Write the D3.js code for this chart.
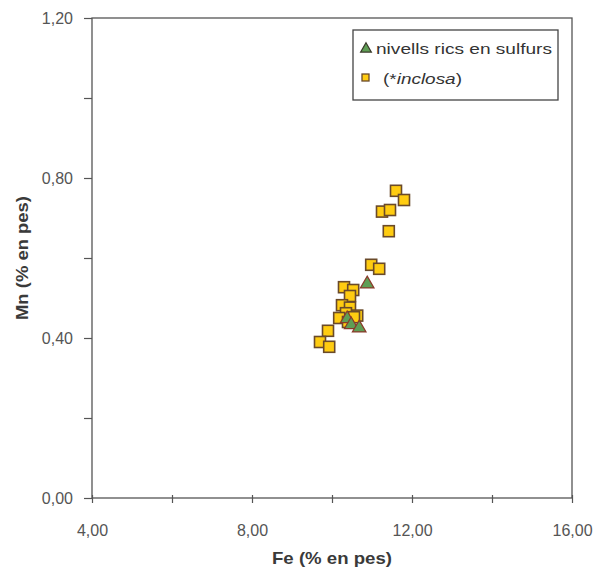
<!DOCTYPE html>
<html>
<head>
<meta charset="utf-8">
<script src="https://cdn.jsdelivr.net/npm/d3@7"></script>
<style>
  body { margin: 0; background: #fff; }
  svg { display: block; font-family: "Liberation Sans", Arial, sans-serif; }
</style>
</head>
<body>
<svg id="chart" width="598" height="567"></svg>
<script>
// Fe vs Mn (% en pes)
const sulfurFe = [10.88, 10.38, 10.48, 10.68];
const sulfurMn = [0.535, 0.448, 0.433, 0.425];

const inclosaFe = [11.6, 11.8, 11.25, 11.45, 11.42, 10.98, 11.18,
                   10.3, 10.53, 10.45, 10.25, 10.45, 10.35, 10.18, 10.63, 10.4, 10.55,
                   9.9, 9.7, 9.93];
const inclosaMn = [0.768, 0.745, 0.716, 0.72, 0.667, 0.583, 0.573,
                   0.527, 0.52, 0.505, 0.482, 0.476, 0.462, 0.45, 0.456, 0.44, 0.452,
                   0.418, 0.39, 0.378];

const xTicks = [4, 8, 12, 16];
const xMinor = [6, 10, 14];
const yTicks = [0, 0.4, 0.8, 1.2];
const yMinor = [0.2, 0.6, 1.0];

const seriesNames = ["nivells rics en sulfurs", "inclosa"];

const fmt = v => d3.format(".2f")(v).replace(".", ",");

const svg = d3.select("#chart");
const plotL = 92, plotR = 572, plotT = 18, plotB = 498;

const x = d3.scaleLinear().domain([4, 16]).range([plotL, plotR]);
const y = d3.scaleLinear().domain([0, 1.2]).range([plotB, plotT]);

const axisColor = "#555";
const labelColor = "#555";

// frame
svg.append("rect")
  .attr("x", plotL).attr("y", plotT)
  .attr("width", plotR - plotL).attr("height", plotB - plotT)
  .attr("fill", "none").attr("stroke", axisColor).attr("stroke-width", 1.3);

// y axis ticks + labels
const yAxis = svg.append("g").attr("transform", `translate(${plotL},0)`)
  .call(d3.axisLeft(y).tickValues(yTicks.concat(yMinor)).tickSize(8)
    .tickFormat(d => yTicks.some(t => Math.abs(t - d) < 1e-9) ? fmt(d) : ""));
yAxis.select(".domain").remove();
yAxis.selectAll("line").attr("stroke", axisColor).attr("stroke-width", 1.2);
yAxis.selectAll("text").attr("fill", labelColor).attr("font-size", 16)
  .attr("font-family", "Liberation Sans, Arial, sans-serif").attr("x", -19);

// x axis ticks + labels
const xAxis = svg.append("g").attr("transform", `translate(0,${plotB})`)
  .call(d3.axisBottom(x).tickValues(xTicks.concat(xMinor)).tickSize(5)
    .tickFormat(d => xTicks.includes(d) ? fmt(d) : ""));
xAxis.select(".domain").remove();
xAxis.selectAll("line").attr("stroke", axisColor).attr("stroke-width", 1.2).attr("y1", -3);
xAxis.selectAll("text").attr("fill", labelColor).attr("font-size", 16)
  .attr("font-family", "Liberation Sans, Arial, sans-serif")
  .attr("y", 38).attr("dy", 0);

// axis titles
svg.append("text")
  .attr("x", 332).attr("y", 564)
  .attr("text-anchor", "middle").attr("font-size", 17).attr("font-weight", "bold")
  .attr("fill", "#3a3a3a").attr("textLength", 120).attr("lengthAdjust", "spacingAndGlyphs")
  .text("Fe (% en pes)");
svg.append("text")
  .attr("transform", `translate(28,258) rotate(-90)`)
  .attr("text-anchor", "middle").attr("font-size", 17).attr("font-weight", "bold")
  .attr("fill", "#3a3a3a").attr("textLength", 124).attr("lengthAdjust", "spacingAndGlyphs")
  .text("Mn (% en pes)");

// markers
const sqSize = 11;
const squareFill = "#ffcc11", squareStroke = "#6a4a2a";
const triFill = "#5f9e55", triStroke = "#8a3a2a";
const triPath = d3.symbol().type(d3.symbolTriangle).size(80)();

const inclosa = inclosaFe.map((v, i) => ({ fe: v, mn: inclosaMn[i] }));
const sulfur = sulfurFe.map((v, i) => ({ fe: v, mn: sulfurMn[i] }));

svg.append("g").selectAll("rect").data(inclosa).join("rect")
  .attr("x", d => x(d.fe) - sqSize / 2).attr("y", d => y(d.mn) - sqSize / 2)
  .attr("width", sqSize).attr("height", sqSize)
  .attr("fill", squareFill).attr("stroke", squareStroke).attr("stroke-width", 1.6);

svg.append("g").selectAll("path").data(sulfur).join("path")
  .attr("d", triPath)
  .attr("transform", d => `translate(${x(d.fe)},${y(d.mn)})`)
  .attr("fill", triFill).attr("stroke", triStroke).attr("stroke-width", 1.2);

// legend
const lg = svg.append("g");
lg.append("rect").attr("x", 353).attr("y", 30).attr("width", 205).attr("height", 70)
  .attr("fill", "#fff").attr("stroke", "#444").attr("stroke-width", 1.3);
lg.append("path").attr("d", d3.symbol().type(d3.symbolTriangle).size(50)())
  .attr("transform", "translate(366,49)")
  .attr("fill", triFill).attr("stroke", "#3a3a2a").attr("stroke-width", 1.2);
lg.append("text").attr("x", 376).attr("y", 54).attr("font-size", 15).attr("fill", "#333")
  .attr("textLength", 176).attr("lengthAdjust", "spacingAndGlyphs")
  .text(seriesNames[0]);
lg.append("rect").attr("x", 362).attr("y", 74).attr("width", 7).attr("height", 7)
  .attr("fill", squareFill).attr("stroke", squareStroke).attr("stroke-width", 1.3);
const t2 = lg.append("text").attr("x", 383).attr("y", 84).attr("font-size", 15).attr("fill", "#333")
  .attr("textLength", 79).attr("lengthAdjust", "spacingAndGlyphs");
t2.append("tspan").text("(*");
t2.append("tspan").attr("font-style", "italic").text(seriesNames[1]);
t2.append("tspan").text(")");
</script>
</body>
</html>
